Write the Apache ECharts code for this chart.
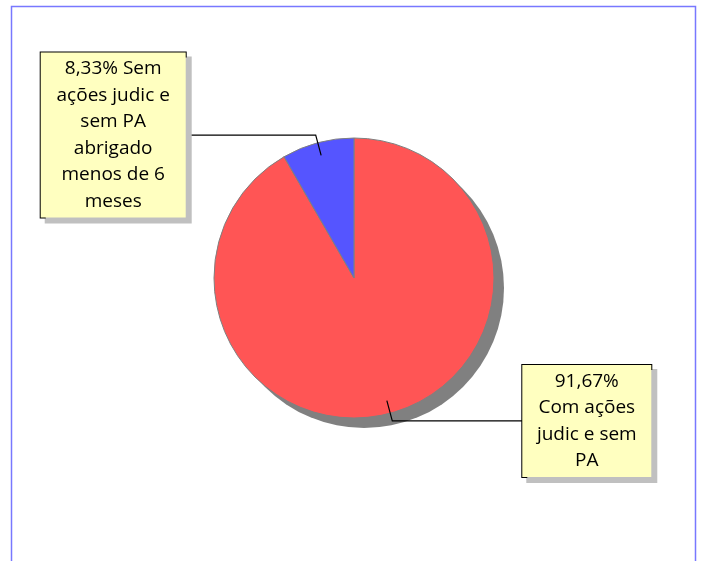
<!DOCTYPE html>
<html>
<head>
<meta charset="UTF-8">
<title>Pie</title>
<script src="https://cdn.jsdelivr.net/npm/echarts@6/dist/echarts.min.js"></script>
<style>
  html, body { margin: 0; padding: 0; background: #fff; }
  #main { width: 702px; height: 561px; }
</style>
</head>
<body>
<div id="main"></div>
<script type="text/javascript">
// slices, clockwise from 12 o'clock
var categories = ['Com ações judic e sem PA', 'Sem ações judic e sem PA abrigado menos de 6 meses'];
var values = [91.67, 8.33];
var colors = ['#ff5555', '#5555ff'];
// how each label is broken into lines (first line gets the percentage)
var labelLines = [
  ['', 'Com ações', 'judic e sem', 'PA'],
  ['Sem', 'ações judic e', 'sem PA', 'abrigado', 'menos de 6', 'meses']
];
var labelWidths = [113, 129];

var myChart = echarts.init(document.getElementById('main'));

var center = [354, 278];
var total = values.reduce(function (a, b) { return a + b; }, 0);

function labelText(i) {
  var pct = (values[i] / total * 100).toFixed(2).replace('.', ',') + '%';
  var lines = labelLines[i].slice();
  lines[0] = lines[0] ? pct + ' ' + lines[0] : pct;
  return lines.map(function (l) { return '{c|' + l + '}'; }).join('\n');
}

var option = {
  backgroundColor: '#fff',
  animation: false,
  graphic: [{
    type: 'rect',
    shape: { x: 11.5, y: 6.5, width: 684, height: 620 },
    style: { fill: 'none', stroke: '#7878ff', lineWidth: 1.5 },
    silent: true
  }],
  series: [
    {
      // drop shadow under the pie
      type: 'pie',
      silent: true,
      z: 1,
      center: [center[0] + 10, center[1] + 10],
      radius: 140,
      label: { show: false },
      labelLine: { show: false },
      itemStyle: { color: '#808080', borderWidth: 0 },
      data: [total]
    },
    {
      type: 'pie',
      silent: true,
      z: 2,
      center: center,
      radius: 140,
      startAngle: 90,
      clockwise: true,
      label: { show: false },
      labelLine: { show: false },
      itemStyle: { borderColor: '#808080', borderWidth: 1 },
      data: categories.map(function (c, i) {
        return { name: c, value: values[i], itemStyle: { color: colors[i] } };
      })
    },
    {
      // carries the callout labels; lines start inside the slices
      type: 'pie',
      silent: true,
      z: 5,
      center: center,
      radius: 127,
      startAngle: 90,
      clockwise: true,
      avoidLabelOverlap: false,
      itemStyle: { color: 'rgba(0,0,0,0)' },
      labelLine: {
        show: true,
        length: 21,
        length2: 130,
        smooth: false,
        lineStyle: { color: '#000', width: 1.2 }
      },
      label: {
        show: true,
        position: 'outside',
        alignTo: 'none',
        distanceToLabelLine: 0,
        backgroundColor: '#ffffc0',
        borderColor: '#000',
        borderWidth: 1,
        padding: [3, 8],
        shadowColor: '#c0c0c0',
        shadowOffsetX: 5,
        shadowOffsetY: 5,
        shadowBlur: 0,
        rich: {
          c: {
            align: 'center',
            fontFamily: 'Open Sans',
            fontSize: 19,
            lineHeight: 26.5,
            color: '#000'
          }
        }
      },
      data: categories.map(function (c, i) {
        return {
          name: c,
          value: values[i],
          label: { formatter: labelText(i), width: labelWidths[i] }
        };
      })
    }
  ]
};
myChart.setOption(option);
</script>
</body>
</html>
